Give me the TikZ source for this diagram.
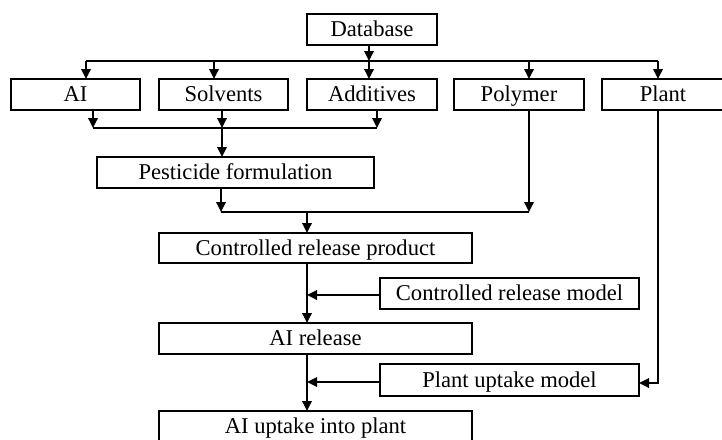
\documentclass[tikz,border=0pt]{standalone}
\usepackage{fontspec}
\setmainfont{Liberation Serif}
\usetikzlibrary{arrows.meta}
\begin{document}
\begin{tikzpicture}[x=1pt,y=-1pt,
  line width=1.8pt,
  box/.style={draw, rectangle, inner sep=0pt, outer sep=0pt, minimum height=31pt,
              text height=18pt, text depth=3.6pt,
              font=\fontsize{22.6}{26}\selectfont},
  arr/.style={-{Triangle[length=10pt,width=9.5pt]}}]
\path[use as bounding box] (0,0) rectangle (722,439);
\clip (0,0) rectangle (722,439);

% boxes
\node[box, minimum width=130pt] (db)    at (372,29.5)  {Database};
\node[box, minimum width=129pt] (ai)    at (75.5,94.5) {AI};
\node[box, minimum width=129pt] (solv)  at (223.5,94.5) {Solvents};
\node[box, minimum width=130pt] (add)   at (372,94.5)  {Additives};
\node[box, minimum width=130pt] (poly)  at (519,94.5)  {Polymer};
\node[box, minimum width=122pt] (plant) at (663,94.5)  {Plant};
\node[box, minimum width=277pt] (pest)  at (235.5,172.5) {Pesticide formulation};
\node[box, minimum width=313pt, minimum height=30pt] (crp) at (315.5,248) {Controlled release product};
\node[box, minimum width=259pt] (crm)   at (509.5,293.5) {Controlled release model};
\node[box, minimum width=313pt] (air)   at (315.5,338.5) {AI release};
\node[box, minimum width=259pt, minimum height=32pt] (pum) at (509.5,380) {Plant uptake model};
\node[box, minimum width=313pt] (aiu)   at (315.5,426.5) {AI uptake into plant};

% distribution bus below the database
\coordinate (t1) at (86,61);
\coordinate (t2) at (214,61);
\coordinate (t3) at (369,61);
\coordinate (t4) at (529,61);
\coordinate (t5) at (658,61);
\draw (t1) -- (t5);
\draw[arr] (db.south -| t3) -- (t3);
\foreach \t/\n in {t1/ai, t2/solv, t3/add, t4/poly, t5/plant}
  \draw[arr] (\t) -- (\n.north -| \t);

% formulation ingredients
\coordinate (m1) at (93,128);
\coordinate (m2) at (222,128);
\coordinate (m3) at (377,128);
\draw (m1) -- (m3);
\draw[arr] (ai.south -| m1) -- (m1);
\draw[arr] (solv.south -| m2) -- (m2);
\draw[arr] (add.south -| m3) -- (m3);
\draw[arr] (m2) -- (pest.north -| m2);

% formulation + polymer
\coordinate (p1) at (221,212);
\coordinate (p2) at (307,212);
\coordinate (p3) at (529,212);
\draw (p1) -- (p3);
\draw[arr] (pest.south -| p1) -- (p1);
\draw[arr] (poly.south -| p3) -- (p3);
\draw[arr] (p2) -- (crp.north -| p2);

% release chain
\draw[arr] (crp.south -| p2) -- (air.north -| p2);
\coordinate (j1) at (307,295);
\draw[arr] (crm.west |- j1) -- (j1);
\draw[arr] (air.south -| p2) -- (aiu.north -| p2);
\coordinate (j2) at (307,382);
\draw[arr] (pum.west |- j2) -- (j2);

% plant data to uptake model
\coordinate (k) at (658,383);
\draw[arr] (plant.south -| t5) -- (k) -- (pum.east |- k);
\end{tikzpicture}
\end{document}
